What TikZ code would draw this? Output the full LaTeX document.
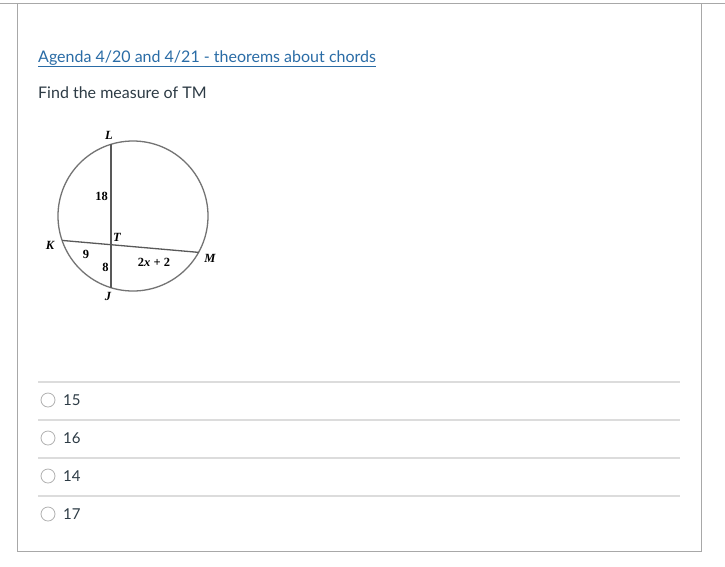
\documentclass[tikz,border=0pt]{standalone}
\usepackage{fontspec}
\setmainfont{Lato}
\newfontfamily\figfont{Liberation Serif}
\usetikzlibrary{intersections,calc}
\definecolor{linkblue}{HTML}{2A6CA6}
\definecolor{txt}{HTML}{2D3B45}
\definecolor{sep}{HTML}{DCDCDC}
\definecolor{frame}{HTML}{A8A8A8}
\definecolor{radio}{HTML}{B0B0B0}
\tikzset{
  pagetext/.style={anchor=base west, inner sep=0pt, font=\fontsize{16}{19}\selectfont, text=txt},
  choice/.style={anchor=base west, inner sep=0pt, font=\fontsize{15}{18}\selectfont, text=txt},
  radiobtn/.style={circle, draw=radio, line width=0.8pt, minimum size=14pt, inner sep=0pt},
  seprule/.style={draw=sep, line width=1.5pt},
  geoline/.style={draw=black!65, line width=1.3pt},
  ptlabel/.style={inner sep=0pt, font=\figfont\bfseries\itshape\fontsize{12.5}{14}\selectfont},
  numlabel/.style={inner sep=0pt, font=\figfont\bfseries\fontsize{12.5}{14}\selectfont}
}
\begin{document}
\begin{tikzpicture}[x=1pt,y=-1pt]
\useasboundingbox (0,0) rectangle (725,566);
\fill[white] (0,0) rectangle (725,566);
% frame
\draw[frame, line width=1pt] (0,3) -- (725,3);
\draw[frame, line width=1pt] (17,3) -- (17,551) -- (701,551) -- (701,3);
% header
\node[pagetext, text=linkblue] (title) at (38,62) {\underline{Agenda 4/20 and 4/21 - theorems about chords}};
\node[pagetext] (question) at (38,98) {Find the measure of TM};
% figure
\coordinate (O) at (133,216);
\def\R{75}
\draw[geoline, draw=black!55] (O) circle[radius=\R];
\coordinate (L) at ($(O)+({\R*cos(107)},{-\R*sin(107)})$);
\coordinate (J) at ($(O)+({\R*cos(253)},{-\R*sin(253)})$);
\coordinate (K) at ($(O)+({\R*cos(199)},{-\R*sin(199)})$);
\coordinate (M) at ($(O)+({\R*cos(331)},{-\R*sin(331)})$);
\draw[geoline, name path=LJ] (L) -- (J);
\draw[geoline, name path=KM] (K) -- (M);
\path[name intersections={of=LJ and KM, by=T}];
\node[ptlabel] (lL) at (109,135) {L};
\node[ptlabel] (lT) at (117,237) {T};
\node[ptlabel] (lK) at (50,245) {K};
\node[ptlabel] (lM) at (210,258) {M};
\node[ptlabel] (lJ) at (108,296) {J};
\node[numlabel] (n18) at (101.5,196) {18};
\node[numlabel] (n9) at (86,254) {9};
\node[numlabel] (n8) at (105.5,267) {8};
\node[numlabel] (nx) at (154,262.5) {2\textit{x} + 2};
% choices
\foreach \y/\v [count=\i] in {400/15, 438/16, 476/14, 514/17} {
  \draw[seprule] (38,\y-18) -- (680,\y-18);
  \node[radiobtn] (r\i) at (48,\y) {};
  \node[choice] (c\i) at (63,\y+5.5) {\v};
}
\draw[seprule] (38,496) -- (680,496);
\end{tikzpicture}
\end{document}
